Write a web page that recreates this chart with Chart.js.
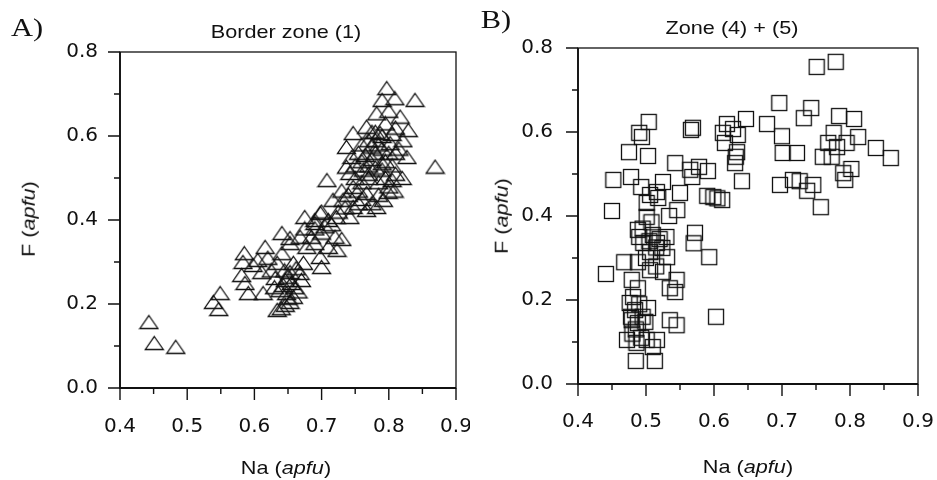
<!DOCTYPE html>
<html>
<head>
<meta charset="utf-8">
<script src="https://cdn.jsdelivr.net/npm/chart.js@4.4.1/dist/chart.umd.min.js"></script>
<style>
  body { margin: 0; background: #fff; }
  #wrap { position: relative; width: 937px; height: 480px; overflow: hidden;
          font-family: "Liberation Sans", Arial, sans-serif; color: #111; }
  canvas { position: absolute; top: 0; }
  .lbl { position: absolute; white-space: nowrap; font-size: 18.5px; line-height: 1;
         transform: translate(-50%, -50%) scaleX(1.17); }
  .rot { transform: translate(-50%, -50%) rotate(-90deg) scaleX(1.17); }
  .tag { font-family: "Liberation Serif", serif; font-size: 26px; }
</style>
</head>
<body>
<div id="wrap">
  <canvas id="chartA" width="470" height="480" style="left:0"></canvas>
  <canvas id="chartB" width="467" height="480" style="left:470px"></canvas>

  <div class="lbl tag" style="left:27px;top:28px">A)</div>
  <div class="lbl" style="left:286px;top:32px">Border zone (1)</div>
  <div class="lbl rot" style="left:29px;top:219px">F (<i>apfu</i>)</div>
  <div class="lbl" style="left:286px;top:468px">Na (<i>apfu</i>)</div>

  <div class="lbl tag" style="left:496px;top:20px">B)</div>
  <div class="lbl" style="left:732px;top:28px">Zone (4) + (5)</div>
  <div class="lbl rot" style="left:502px;top:216px">F (<i>apfu</i>)</div>
  <div class="lbl" style="left:748px;top:467px">Na (<i>apfu</i>)</div>
</div>
<script>
// Na vs F (apfu)
const borderZonePts = [
  [0.443,0.157],[0.451,0.107],[0.483,0.098],
  [0.539,0.205],[0.549,0.226],[0.547,0.188],
  [0.585,0.321],[0.583,0.300],[0.598,0.293],[0.581,0.269],[0.586,0.250],[0.591,0.226],
  [0.616,0.336],[0.611,0.276],[0.613,0.226],[0.634,0.298],[0.631,0.262],[0.634,0.186],[0.640,0.190],
  [0.646,0.198],[0.653,0.205],[0.658,0.217],[0.648,0.226],[0.638,0.233],[0.646,0.257],[0.653,0.276],
  [0.668,0.274],[0.670,0.257],[0.658,0.298],[0.673,0.298],[0.641,0.321],[0.653,0.345],[0.678,0.336],
  [0.700,0.288],[0.698,0.312],[0.723,0.329],[0.710,0.336],[0.690,0.345],
  [0.660,0.240],[0.650,0.265],[0.662,0.285],[0.645,0.280],[0.655,0.250],[0.665,0.230],[0.650,0.215],[0.643,0.245],
  [0.620,0.310],[0.605,0.305],[0.625,0.280],[0.630,0.240],
  [0.641,0.369],[0.653,0.357],[0.668,0.360],[0.685,0.360],[0.700,0.370],[0.720,0.360],[0.730,0.355],[0.675,0.380],[0.690,0.380],
  [0.698,0.417],[0.675,0.407],[0.690,0.393],[0.710,0.400],[0.722,0.407],[0.742,0.407],[0.732,0.448],[0.747,0.431],
  [0.767,0.424],[0.782,0.431],[0.717,0.448],[0.747,0.479],[0.767,0.464],[0.792,0.448],[0.799,0.467],[0.708,0.495],
  [0.737,0.527],[0.742,0.512],
  [0.700,0.420],[0.705,0.385],[0.715,0.390],[0.690,0.400],[0.725,0.420],[0.735,0.430],[0.755,0.440],[0.760,0.450],
  [0.775,0.440],[0.785,0.460],[0.730,0.470],[0.740,0.460],[0.755,0.470],[0.760,0.490],[0.750,0.500],[0.770,0.500],
  [0.785,0.490],[0.795,0.500],[0.800,0.480],[0.808,0.470],
  [0.762,0.520],[0.770,0.530],[0.775,0.545],[0.765,0.555],[0.780,0.560],[0.775,0.575],[0.785,0.580],[0.770,0.590],
  [0.790,0.600],[0.780,0.610],[0.795,0.540],[0.790,0.520],[0.805,0.530],[0.810,0.510],[0.802,0.583],[0.810,0.560],
  [0.827,0.550],[0.787,0.607],[0.780,0.590],[0.747,0.607],[0.737,0.574],[0.767,0.622],[0.782,0.654],[0.821,0.590],
  [0.829,0.614],[0.817,0.646],[0.790,0.686],[0.809,0.690],[0.797,0.714],[0.839,0.686],[0.869,0.527],
  [0.760,0.540],[0.755,0.560],[0.750,0.530],[0.745,0.550],[0.770,0.510],[0.780,0.525],[0.790,0.570],[0.800,0.560],
  [0.795,0.630],[0.810,0.620],[0.800,0.660],[0.805,0.605],[0.815,0.570],[0.820,0.500],[0.805,0.495],[0.790,0.535],
  [0.760,0.580],[0.775,0.610]
];

const zone45Pts = [
  [0.751,0.755],[0.779,0.767],[0.696,0.669],[0.743,0.657],[0.732,0.633],[0.784,0.638],[0.806,0.631],
  [0.504,0.624],[0.490,0.598],[0.494,0.588],[0.475,0.552],[0.503,0.543],[0.566,0.605],[0.569,0.610],
  [0.619,0.619],[0.613,0.598],[0.628,0.607],[0.635,0.593],[0.647,0.631],[0.616,0.574],[0.634,0.552],
  [0.632,0.541],[0.631,0.526],
  [0.678,0.619],[0.700,0.590],[0.701,0.550],[0.722,0.550],[0.776,0.598],[0.768,0.574],[0.781,0.564],
  [0.760,0.541],[0.773,0.541],[0.795,0.574],[0.812,0.588],[0.838,0.562],[0.860,0.538],[0.802,0.512],
  [0.790,0.502],[0.793,0.486],
  [0.697,0.474],[0.716,0.486],[0.726,0.483],[0.746,0.474],[0.737,0.460],[0.757,0.421],[0.641,0.483],
  [0.543,0.526],[0.565,0.510],[0.578,0.517],[0.591,0.507],[0.568,0.493],
  [0.452,0.486],[0.478,0.493],[0.493,0.469],[0.525,0.481],[0.516,0.457],[0.506,0.450],[0.518,0.443],
  [0.550,0.455],[0.590,0.448],[0.599,0.445],[0.612,0.438],[0.605,0.442],
  [0.450,0.412],[0.501,0.431],[0.546,0.414],[0.534,0.400],[0.501,0.398],[0.508,0.385],[0.488,0.367],
  [0.572,0.360],[0.570,0.335],
  [0.495,0.370],[0.510,0.355],[0.520,0.345],[0.530,0.350],[0.505,0.340],[0.490,0.350],[0.515,0.325],
  [0.593,0.302],[0.441,0.262],[0.468,0.290],[0.488,0.290],[0.506,0.314],[0.524,0.324],[0.496,0.336],
  [0.516,0.336],[0.531,0.302],[0.506,0.271],[0.525,0.267],[0.515,0.280],[0.500,0.300],
  [0.479,0.248],[0.545,0.248],[0.535,0.228],[0.543,0.219],[0.488,0.228],[0.481,0.207],[0.476,0.193],
  [0.503,0.181],[0.484,0.176],[0.490,0.190],[0.478,0.160],[0.495,0.160],[0.485,0.130],
  [0.479,0.152],[0.488,0.145],[0.499,0.148],[0.535,0.152],[0.545,0.140],[0.603,0.160],
  [0.472,0.105],[0.486,0.098],[0.501,0.105],[0.516,0.105],[0.510,0.088],[0.485,0.055],[0.513,0.055],
  [0.493,0.110],[0.480,0.120]
];

const xTicks = [0.4, 0.5, 0.6, 0.7, 0.8, 0.9];
const xMinor = [0.45, 0.55, 0.65, 0.75, 0.85];
const yTicks = [0.0, 0.2, 0.4, 0.6, 0.8];
const yMinor = [0.1, 0.3, 0.5, 0.7];

const INK = '#111';

// hollow marker bitmaps
function makeTriangle() {
    const c = document.createElement('canvas');
    c.width = 21; c.height = 16;
    const g = c.getContext('2d');
    g.strokeStyle = INK;
    g.lineWidth = 1.3;
    g.beginPath();
    g.moveTo(10.5, 1.5);
    g.lineTo(19.5, 14.5);
    g.lineTo(1.5, 14.5);
    g.closePath();
    g.stroke();
    return c;
}

function makeSquare() {
    const c = document.createElement('canvas');
    c.width = 18; c.height = 18;
    const g = c.getContext('2d');
    g.strokeStyle = INK;
    g.lineWidth = 1.3;
    g.strokeRect(1.5, 1.5, 15, 15);
    return c;
}

// box + outward major/minor ticks
const framePlugin = {
    id: 'frame',
    afterDraw(chart) {
        const { ctx, chartArea: a, scales: { x, y } } = chart;
        ctx.save();
        ctx.strokeStyle = INK;
        ctx.lineWidth = 1.3;
        ctx.strokeRect(a.left, a.top, a.right - a.left, a.bottom - a.top);

        ctx.lineWidth = 1.8;
        ctx.beginPath();
        ctx.moveTo(a.left, a.top);
        ctx.lineTo(a.left, a.bottom);
        ctx.lineTo(a.right, a.bottom);
        ctx.stroke();

        ctx.lineWidth = 1.4;
        ctx.beginPath();
        xTicks.forEach(v => { const px = x.getPixelForValue(v); ctx.moveTo(px, a.bottom); ctx.lineTo(px, a.bottom + 12); });
        xMinor.forEach(v => { const px = x.getPixelForValue(v); ctx.moveTo(px, a.bottom); ctx.lineTo(px, a.bottom + 6); });
        yTicks.forEach(v => { const py = y.getPixelForValue(v); ctx.moveTo(a.left, py); ctx.lineTo(a.left - 12, py); });
        yMinor.forEach(v => { const py = y.getPixelForValue(v); ctx.moveTo(a.left, py); ctx.lineTo(a.left - 6, py); });
        ctx.stroke();
        ctx.restore();
    }
};

function makePanel(id, pts, marker, pad, yLabelPad, xLabelPad) {
    const tickFont = { family: '"DejaVu Sans", sans-serif', size: 20 };
    return new Chart(document.getElementById(id), {
        type: 'scatter',
        data: {
            datasets: [{
                data: pts.map(p => ({ x: p[0], y: p[1] })),
                pointStyle: marker,
                pointRadius: 9,
                pointHoverRadius: 9
            }]
        },
        options: {
            responsive: false,
            animation: false,
            layout: { padding: pad },
            plugins: { legend: { display: false }, tooltip: { enabled: false } },
            scales: {
                x: {
                    type: 'linear', min: 0.4, max: 0.9,
                    grid: { display: false, drawTicks: false },
                    border: { display: false },
                    afterBuildTicks: s => { s.ticks = xTicks.map(v => ({ value: v })); },
                    afterFit: s => { s.height = 50; s.paddingLeft = 0; s.paddingRight = 0; },
                    ticks: { font: tickFont, color: INK, padding: xLabelPad, maxRotation: 0, autoSkip: false,
                             callback: v => v.toFixed(1) }
                },
                y: {
                    type: 'linear', min: 0, max: 0.8,
                    grid: { display: false, drawTicks: false },
                    border: { display: false },
                    afterBuildTicks: s => { s.ticks = yTicks.map(v => ({ value: v })); },
                    afterFit: s => { s.width = 60; s.paddingTop = 0; s.paddingBottom = 0; },
                    ticks: { font: tickFont, color: INK, padding: yLabelPad,
                             callback: v => v.toFixed(1) }
                }
            }
        },
        plugins: [framePlugin]
    });
}

makePanel('chartA', borderZonePts, makeTriangle(), { left: 60, right: 14, top: 52, bottom: 42 }, 22, 27);
makePanel('chartB', zone45Pts, makeSquare(), { left: 48, right: 19, top: 48, bottom: 46 }, 25, 26);
</script>
</body>
</html>
